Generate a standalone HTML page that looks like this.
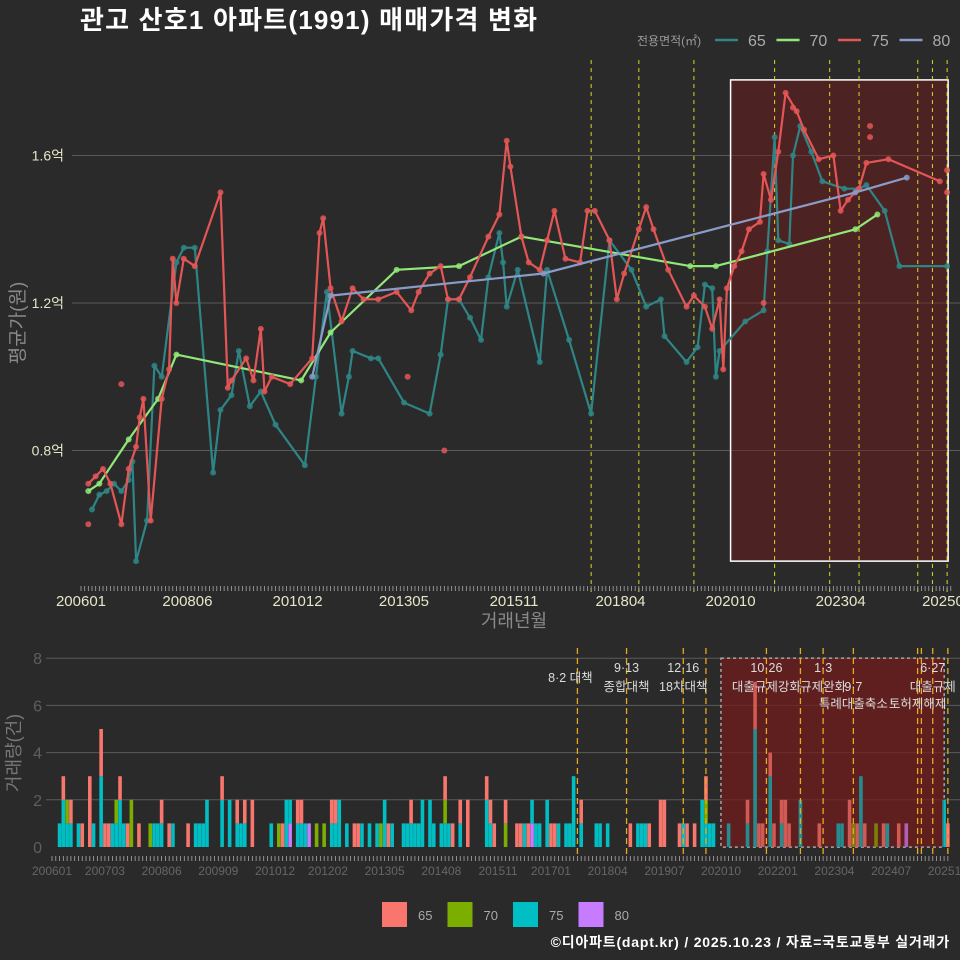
<!DOCTYPE html>
<html><head><meta charset="utf-8">
<style>
html,body{margin:0;padding:0;background:#2a2a2a;}
svg{display:block;font-family:"Liberation Sans","Noto Sans CJK KR",sans-serif;}
</style></head>
<body>
<svg id="chart" width="960" height="960" viewBox="0 0 960 960" xmlns="http://www.w3.org/2000/svg">
<rect x="0" y="0" width="960" height="960" fill="#2a2a2a"/>
<text x="80" y="29" fill="#ffffff" font-size="26" font-weight="bold" letter-spacing="1.2">관고 산호1 아파트(1991) 매매가격 변화</text>
<text x="950" y="947" fill="#ffffff" font-size="14" font-weight="bold" letter-spacing="0.8" text-anchor="end">©디아파트(dapt.kr) / 2025.10.23 / 자료=국토교통부 실거래가</text>
</svg>
<script>
// ---------- price data (억원) ----------
const price65 = [["200604",0.64],["200606",0.68],["200608",0.69],["200610",0.71],["200612",0.69],["200702",0.72],["200703",0.77],["200704",0.50],["200707",0.61],["200709",1.03],["200711",1.00],["200803",1.31],["200805",1.35],["200808",1.35],["200901",0.74],["200903",0.91],["200906",0.95],["200908",1.07],["200911",0.92],["201002",0.96],["201006",0.87],["201102",0.76],["201105",1.00],["201108",1.23],["201112",0.90],["201202",1.00],["201203",1.07],["201208",1.05],["201210",1.05],["201305",0.93],["201312",0.90],["201403",1.06],["201405",1.21],["201408",1.21],["201411",1.16],["201502",1.10],["201504",1.27],["201507",1.39],["201508",1.31],["201509",1.19],["201512",1.29],["201606",1.04],["201608",1.29],["201702",1.10],["201708",0.90],["201801",1.37],["201807",1.29],["201811",1.19],["201903",1.21],["201904",1.11],["201910",1.04],["202001",1.08],["202003",1.25],["202005",1.24],["202006",1.00],["202007",1.07],["202102",1.15],["202107",1.18],["202108",1.34],["202110",1.65],["202111",1.37],["202202",1.36],["202203",1.60],["202205",1.68],["202208",1.61],["202211",1.53],["202305",1.51],["202309",1.51],["202311",1.52],["202404",1.45],["202408",1.30],["202509",1.30]];
const price70 = [["200603",0.69],["200606",0.71],["200702",0.83],["200710",0.94],["200803",1.06],["201101",0.99],["201109",1.12],["201303",1.29],["201408",1.30],["201601",1.38],["201911",1.30],["202006",1.30],["202308",1.40],["202402",1.44]];
const price75 = [["200603",0.71],["200605",0.73],["200607",0.75],["200609",0.71],["200612",0.60],["200702",0.75],["200704",0.81],["200705",0.89],["200706",0.94],["200708",0.61],["200711",0.94],["200801",1.02],["200802",1.32],["200803",1.20],["200805",1.32],["200808",1.30],["200903",1.50],["200905",0.97],["200906",0.99],["200910",1.05],["200912",0.99],["201002",1.13],["201003",0.96],["201005",1.00],["201010",0.98],["201104",1.05],["201106",1.39],["201107",1.43],["201109",1.24],["201112",1.15],["201203",1.24],["201206",1.21],["201210",1.21],["201303",1.23],["201307",1.18],["201309",1.23],["201312",1.28],["201403",1.30],["201405",1.21],["201408",1.21],["201411",1.27],["201504",1.38],["201507",1.44],["201509",1.64],["201510",1.57],["201601",1.38],["201603",1.31],["201606",1.29],["201608",1.37],["201610",1.45],["201701",1.32],["201705",1.31],["201707",1.45],["201709",1.45],["201801",1.37],["201803",1.21],["201805",1.28],["201809",1.40],["201811",1.46],["201901",1.40],["201905",1.29],["201910",1.19],["201912",1.22],["202003",1.19],["202005",1.13],["202007",1.21],["202008",1.02],["202009",1.24],["202011",1.30],["202101",1.34],["202103",1.40],["202106",1.42],["202107",1.55],["202109",1.48],["202111",1.61],["202201",1.77],["202204",1.72],["202206",1.67],["202210",1.59],["202302",1.60],["202304",1.45],["202306",1.48],["202309",1.51],["202311",1.58],["202405",1.59],["202507",1.53]];
const price80 = [["201104",1.00],["201109",1.22],["201607",1.28],["202308",1.50],["202410",1.54]];
const extra75 = [["200603",0.60],["200612",0.98],["201404",0.80],["201306",1.00],["202312",1.68],["202312",1.65],["202203",1.73],["202509",1.56],["202509",1.50],["202107",1.20]];
// ---------- volume data (건) ----------
const vol65 = [["200604",1],["200606",1],["200609",1],["200611",3],["200702",2],["200703",1],["200704",1],["200707",1],["200709",1],["200712",1],["200806",1],["200808",1],["200901",1],["200910",1],["201002",1],["201004",1],["201006",2],["201102",1],["201106",1],["201107",1],["201203",1],["201204",1],["201209",1],["201210",1],["201306",1],["201312",1],["201409",1],["201411",1],["201501",1],["201503",2],["201508",1],["201509",1],["201510",1],["201601",1],["201604",1],["201605",1],["201607",1],["201701",1],["201702",1],["201709",1],["201810",1],["201903",1],["201906",2],["201907",2],["201911",1],["202001",1],["202003",1],["202006",1],["202105",1],["202107",2],["202108",1],["202109",1],["202111",1],["202112",1],["202202",1],["202203",2],["202204",1],["202212",1],["202308",2],["202310",1],["202312",1],["202405",1],["202409",1],["202510",1]];
const vol70 = [["200605",1],["200706",1],["200710",2],["200803",1],["201101",1],["201111",1],["201201",1],["201304",1],["201409",1],["201601",1],["202006",1],["202309",1],["202403",1]];
const vol75 = [["200603",1],["200604",2],["200605",1],["200606",1],["200608",1],["200612",1],["200702",3],["200705",1],["200706",1],["200707",2],["200708",1],["200804",1],["200805",1],["200806",1],["200809",1],["200903",1],["200904",1],["200905",1],["200906",2],["200910",2],["200912",2],["201002",1],["201003",1],["201004",1],["201011",1],["201103",2],["201104",1],["201106",1],["201107",1],["201108",1],["201203",1],["201204",1],["201205",2],["201207",1],["201211",1],["201301",1],["201303",1],["201305",2],["201307",1],["201310",1],["201311",1],["201312",1],["201401",1],["201402",1],["201403",2],["201405",2],["201406",1],["201408",1],["201409",1],["201410",1],["201501",1],["201508",2],["201509",1],["201606",1],["201608",1],["201609",1],["201610",1],["201612",2],["201703",1],["201705",1],["201706",1],["201707",3],["201709",1],["201801",1],["201802",1],["201804",1],["201812",1],["201901",1],["201902",1],["201912",1],["202005",2],["202006",1],["202007",1],["202008",1],["202012",1],["202105",1],["202107",5],["202111",3],["202202",1],["202207",2],["202305",1],["202306",1],["202311",3],["202406",1],["202509",2]];
const vol80 = [["201104",1],["201109",1],["201608",1],["202411",1]];
// ---------- ticks / events ----------
const topTicks = ["200601","200806","201012","201305","201511","201804","202010","202304","202509"];
const priceTicks = [0.8,1.2,1.6];
const priceTickLabels = ["0.8억","1.2억","1.6억"];
const botTicks = ["200601","200703","200806","200909","201012","201202","201305","201408","201511","201701","201804","201907","202010","202201","202304","202407","202510"];
const volTicks = [0,2,4,6,8];
const topEvents = ["201708","201809","201912","202110","202301","202309","202501","202505","202509"];
const botEvents = ["201708","201809","201912","202006","202110","202207","202301","202309","202502","202503","202506","202510"];
const annMonths = ["201708","201809","201912","202110","202301","202309","202502","202506"];
const annLine1 = ["","9·13","12·16","10·26","1·3","","","6·27"];
const annLine2 = ["8·2 대책","종합대책","18차대책","대출규제강화","규제완화","9·7","","대출규제"];
const annLine3 = ["","","","","","특례대출축소","토허제해제",""];
const regionMonths = ["202010","202509"];
const regionPrice = [0.5,1.805];
const regionVol = [0,8];
const sizes = ["65","70","75","80"];

const NS="http://www.w3.org/2000/svg";
const svg=document.getElementById('chart');
function mk(tag,attrs,parent){const e=document.createElementNS(NS,tag);for(const k in attrs)e.setAttribute(k,attrs[k]);(parent||svg).appendChild(e);return e;}
function mi(s){return (parseInt(s.slice(0,4))-2006)*12+parseInt(s.slice(4,6))-1;}
const xT=s=>81+3.67*mi(s);
const yT=v=>303-(v-1.2)*368.75;
const xB=s=>52+3.78*mi(s);
const yB=c=>847-c*23.6;
const lineCol={"65":"#2f8585","70":"#90e878","75":"#e45656","80":"#8b9bc8"};
const barCol={"65":"#f8766d","70":"#7cae00","75":"#00bfc4","80":"#c77cff"};

// ---------- TOP PANEL ----------
const gTop=mk('g',{});


priceTicks.forEach((v,i)=>{
  const l=mk('line',{x1:72,x2:960,y1:yT(v),y2:yT(v),stroke:'#5a5a5a','stroke-width':1},gTop);
  
  
  const t=mk('text',{x:64,y:yT(v)+5,fill:'#e6e6c8','font-size':14,'text-anchor':'end'},gTop);
  t.textContent=priceTickLabels[i];
  
  
});
const r1=mk('rect',{x:xT(regionMonths[0]),y:yT(regionPrice[1]),width:xT(regionMonths[1])-xT(regionMonths[0])+1,height:yT(regionPrice[0])-yT(regionPrice[1]),fill:'rgba(120,25,25,0.45)',stroke:'#ffffff','stroke-width':1.5},gTop);


topEvents.forEach(m=>{
  const l=mk('line',{x1:xT(m),x2:xT(m),y1:60,y2:592,stroke:'#d8d820','stroke-width':1,'stroke-dasharray':'4,4'},gTop);
  
  
});
for(let m=0;m<=237;m++){
  const l=mk('line',{x1:81+3.67*m,x2:81+3.67*m,y1:586,y2:591,stroke:'#aaaaaa','stroke-width':0.8},gTop);
  
  
}
topTicks.forEach(s=>{
  const t=mk('text',{x:xT(s),y:606,fill:'#e6e6c8','font-size':15,'text-anchor':'middle'},gTop);
  t.textContent=s;
  
  
});
const xt=mk('text',{x:514,y:627,fill:'#8a8a8a','font-size':18,'text-anchor':'middle'},gTop);
xt.textContent='거래년월';


const yt=mk('text',{x:24,y:323,fill:'#8a8a8a','font-size':19,'text-anchor':'middle',transform:'rotate(-90 24 323)'},gTop);
yt.textContent='평균가(원)';



const priceSeries={"65":price65,"70":price70,"75":price75,"80":price80};
sizes.forEach(k=>{
  const d=priceSeries[k];
  const p=mk('polyline',{points:d.map(q=>xT(q[0]).toFixed(1)+','+yT(q[1]).toFixed(1)).join(' '),fill:'none',stroke:lineCol[k],'stroke-width':2.2,'stroke-linejoin':'round'},gTop);
  
  
  d.forEach(q=>{
    const c=mk('circle',{cx:xT(q[0]),cy:yT(q[1]),r:3,fill:lineCol[k],opacity:0.85},gTop);
    
    
  });
});
extra75.forEach(q=>{
  const c=mk('circle',{cx:xT(q[0]),cy:yT(q[1]),r:3,fill:lineCol["75"],opacity:0.85},gTop);
  
  
});
const lg=mk('g',{});


const lgt=mk('text',{x:637,y:45,fill:'#9a9a9a','font-size':12},lg);
lgt.textContent='전용면적(㎡)';


sizes.forEach((k,i)=>{
  const x0=715+i*61.5;
  const l=mk('line',{x1:x0,x2:x0+23,y1:40,y2:40,stroke:lineCol[k],'stroke-width':2.5},lg);
  
  
  const t=mk('text',{x:x0+33,y:46,fill:'#aaaaaa','font-size':16},lg);
  t.textContent=k;
  
  
});

// ---------- BOTTOM PANEL ----------
const gB=mk('g',{});


volTicks.forEach(v=>{
  if(v>0){
    const l=mk('line',{x1:46,x2:960,y1:yB(v),y2:yB(v),stroke:'#5a5a5a','stroke-width':1},gB);
    
    
  }
  const t=mk('text',{x:42,y:yB(v)+6,fill:'#5f5f5f','font-size':16,'text-anchor':'end'},gB);
  t.textContent=String(v);
  
  
});
const r2=mk('rect',{x:xB(regionMonths[0]),y:yB(regionVol[1]),width:xB(regionMonths[1])-xB(regionMonths[0]),height:yB(regionVol[0])-yB(regionVol[1]),fill:'rgba(120,25,25,0.55)',stroke:'#bbbbbb','stroke-width':1.5,'stroke-dasharray':'3,3'},gB);


const volSeries={"65":vol65,"70":vol70,"75":vol75,"80":vol80};
const stack={};
["80","75","70","65"].forEach(k=>{
  volSeries[k].forEach(q=>{
    const base=stack[q[0]]||0;
    const b=mk('rect',{x:xB(q[0])-1.8,y:yB(base+q[1]),width:3.6,height:yB(base)-yB(base+q[1]),fill:barCol[k]},gB);
    
    
    stack[q[0]]=base+q[1];
  });
});
const r3=mk('rect',{x:xB(regionMonths[0]),y:yB(regionVol[1]),width:xB(regionMonths[1])-xB(regionMonths[0]),height:yB(regionVol[0])-yB(regionVol[1]),fill:'rgba(120,25,25,0.3)'},gB);


botEvents.forEach(m=>{
  const l=mk('line',{x1:xB(m),x2:xB(m),y1:648,y2:858,stroke:'#e8a820','stroke-width':1.3,'stroke-dasharray':'6,4'},gB);
  
  
});
annMonths.forEach((m,i)=>{
  [[annLine1[i],672],[annLine2[i],i===0?682:691],[annLine3[i],708]].forEach(a=>{
    if(!a[0])return;
    const t=mk('text',{x:xB(m)-(i===0?7:0),y:a[1],fill:'#dddddd','font-size':12.5,'text-anchor':'middle'},gB);
    t.textContent=a[0];
    
    
  });
});
for(let m=0;m<=237;m++){
  const l=mk('line',{x1:52+3.78*m,x2:52+3.78*m,y1:856,y2:861,stroke:'#aaaaaa','stroke-width':0.8},gB);
  
  
}
botTicks.forEach(s=>{
  const t=mk('text',{x:xB(s),y:875,fill:'#666666','font-size':12,'text-anchor':'middle'},gB);
  t.textContent=s;
  
  
});
const vt=mk('text',{x:20,y:753,fill:'#777777','font-size':18,'text-anchor':'middle',transform:'rotate(-90 20 753)'},gB);
vt.textContent='거래량(건)';


const bl=mk('g',{});


sizes.forEach((k,i)=>{
  const x0=382+i*65.5;
  const s=mk('rect',{x:x0,y:902,width:25,height:25,fill:barCol[k]},bl);
  
  
  const t=mk('text',{x:x0+36,y:920,fill:'#aaaaaa','font-size':13},bl);
  t.textContent=k;
  
  
});
</script>
</body></html>
